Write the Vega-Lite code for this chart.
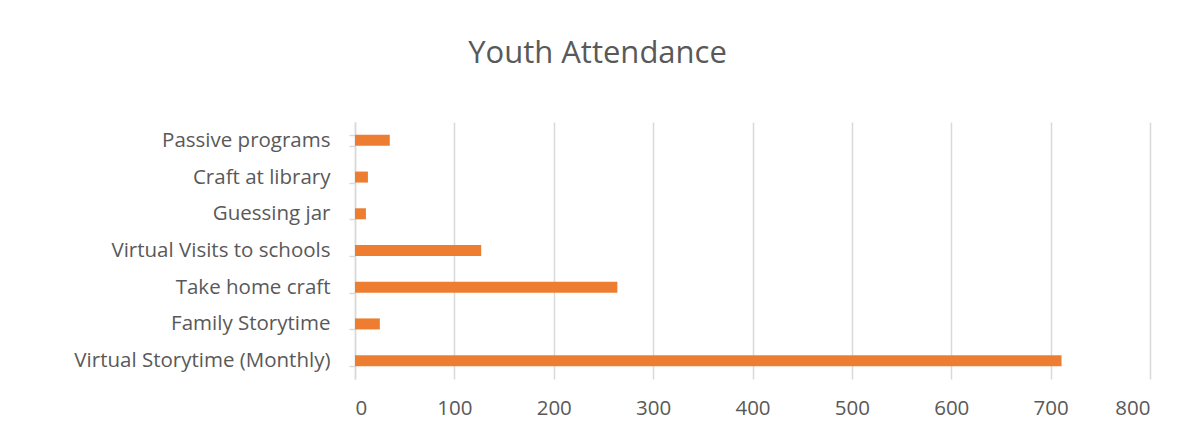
{
  "$schema": "https://vega.github.io/schema/vega-lite/v6.json",
  "width": 795,
  "height": 257,
  "autosize": {"type": "none"},
  "padding": {"left": 355, "top": 122, "right": 37, "bottom": 68},
  "background": "white",
  "title": {
    "text": "Youth Attendance",
    "font": "Open Sans",
    "fontSize": 31,
    "fontWeight": "normal",
    "color": "#595959",
    "anchor": "middle",
    "dx": -155,
    "offset": 18,
    "baseline": "alphabetic"
  },
  "data": {
    "values": [
      {"program": "Passive programs", "attendance": 35},
      {"program": "Craft at library", "attendance": 13},
      {"program": "Guessing jar", "attendance": 11},
      {"program": "Virtual Visits to schools", "attendance": 127},
      {"program": "Take home craft", "attendance": 264},
      {"program": "Family Storytime", "attendance": 25},
      {"program": "Virtual Storytime (Monthly)", "attendance": 711}
    ]
  },
  "mark": {"type": "bar", "color": "#ED7D31"},
  "encoding": {
    "y": {
      "field": "program",
      "type": "nominal",
      "sort": null,
      "scale": {"paddingInner": 0.7, "paddingOuter": 0.35},
      "axis": {
        "title": null,
        "labelFont": "Open Sans",
        "labelFontSize": 20.5,
        "labelColor": "#595959",
        "labelPadding": 19,
        "labelLimit": 400,
        "domainColor": "#D9D9D9",
        "domainWidth": 1.5,
        "tickColor": "#D9D9D9",
        "tickWidth": 1.5,
        "tickSize": 6,
        "tickBand": "extent",
        "grid": false
      }
    },
    "x": {
      "field": "attendance",
      "type": "quantitative",
      "scale": {"domain": [0, 800], "nice": false},
      "axis": {
        "title": null,
        "values": [0, 100, 200, 300, 400, 500, 600, 700, 800],
        "labelFont": "Open Sans",
        "labelFontSize": 20.5,
        "labelColor": "#595959",
        "labelPadding": 19,
        "domain": false,
        "ticks": false,
        "grid": true,
        "gridColor": "#D9D9D9",
        "gridWidth": 1.5
      }
    }
  },
  "config": {"view": {"stroke": null}}
}
